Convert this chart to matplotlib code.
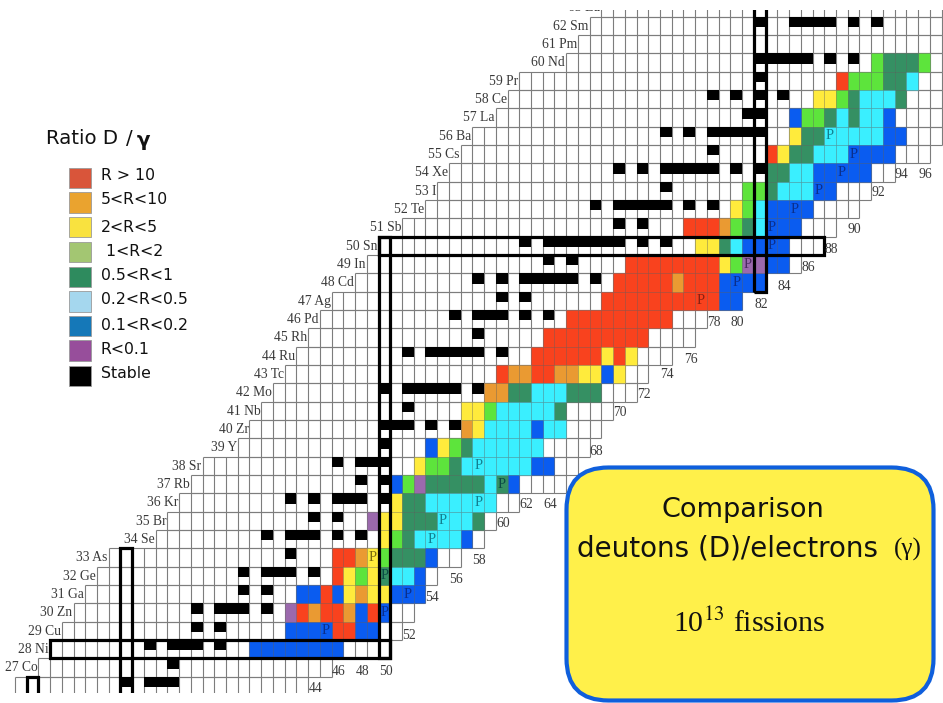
import matplotlib
matplotlib.use("Agg")
import matplotlib.pyplot as plt
from matplotlib.patches import Rectangle, FancyBboxPatch

# ---- rows of the chart: Z, element, first N, last N ----
Z_VALUES = list(range(26, 64))
ELEMENTS = ["", "Co", "Ni", "Cu", "Zn", "Ga", "Ge", "As", "Se", "Br", "Kr", "Rb", "Sr", "Y", "Zr", "Nb",
            "Mo", "Tc", "Ru", "Rh", "Pd", "Ag", "Cd", "In", "Sn", "Sb", "Te", "I", "Xe", "Cs", "Ba",
            "La", "Ce", "Pr", "Nd", "Pm", "Sm", "Eu"]
N_FIRST = [19, 21, 22, 23, 24, 25, 26, 27, 31, 32, 33, 34, 35, 38, 39, 40,
           41, 42, 43, 44, 45, 46, 48, 49, 50, 52, 54, 55, 56, 57, 58,
           60, 61, 62, 66, 67, 68, 69]
N_LAST = [43, 45, 50, 51, 52, 53, 54, 56, 58, 59, 61, 65, 66, 67, 68, 69,
          71, 72, 74, 76, 77, 80, 82, 85, 87, 88, 90, 91, 93, 96, 97,
          97, 97, 97, 97, 97, 97, 97]

# ---- ratio classes: (Z, first N, last N) ----
RED = [(29, 46, 47), (30, 43, 43), (30, 45, 46), (30, 49, 49), (31, 45, 45), (32, 46, 46), (33, 46, 47),
       (43, 60, 60), (43, 63, 64), (44, 63, 68), (44, 70, 70), (45, 64, 72), (46, 66, 74), (47, 69, 78),
       (48, 70, 74), (48, 76, 78), (49, 71, 78), (51, 76, 78), (55, 83, 83), (59, 89, 89)]
ORANGE = [(30, 44, 44), (30, 47, 47), (31, 48, 48), (33, 48, 48), (40, 57, 57), (42, 59, 60),
          (43, 61, 62), (43, 65, 66), (48, 75, 75), (51, 79, 79)]
YELLOW = [(31, 47, 47), (31, 49, 50), (32, 47, 47), (32, 49, 49), (33, 49, 49), (34, 50, 50), (35, 50, 51),
          (36, 51, 51), (38, 53, 53), (39, 55, 55), (40, 58, 58), (41, 57, 58), (43, 67, 68), (43, 70, 70),
          (44, 69, 69), (44, 71, 71), (49, 79, 79), (50, 77, 78), (52, 80, 80), (55, 84, 84), (56, 85, 85),
          (58, 87, 88)]
GREEN = [(32, 48, 48), (33, 50, 50), (34, 51, 51), (37, 52, 52), (38, 54, 55), (39, 56, 56), (41, 59, 59),
         (49, 80, 80), (51, 80, 80), (52, 81, 81), (53, 81, 82), (57, 86, 87), (58, 89, 89), (59, 90, 92),
         (60, 92, 92), (60, 96, 96)]
DARK = [(32, 50, 50), (33, 51, 53), (34, 52, 52), (35, 52, 54), (35, 58, 58), (36, 52, 53), (37, 54, 58),
        (37, 60, 60), (38, 56, 56), (39, 57, 57), (41, 65, 65), (42, 61, 62), (42, 66, 68), (50, 79, 79),
        (51, 81, 81), (53, 83, 83), (54, 83, 84), (55, 85, 86), (56, 86, 87), (57, 88, 88), (57, 90, 90),
        (58, 90, 90), (58, 94, 94), (59, 93, 94), (60, 93, 95)]
CYAN = [(32, 51, 52), (34, 53, 56), (35, 55, 57), (36, 54, 59), (37, 59, 59), (38, 57, 62), (39, 58, 63),
        (40, 59, 62), (40, 64, 65), (41, 60, 64), (42, 63, 65), (50, 80, 80), (51, 82, 82), (52, 82, 82),
        (53, 84, 86), (54, 85, 86), (55, 87, 89), (56, 88, 92), (57, 89, 89), (57, 91, 92), (58, 91, 93),
        (59, 95, 95)]
BLUE = [(28, 39, 46), (29, 42, 45), (29, 48, 49), (30, 48, 48), (30, 50, 50), (31, 43, 44), (31, 46, 46),
        (31, 51, 53), (32, 53, 53), (33, 54, 54), (34, 57, 57), (37, 51, 51), (37, 61, 61), (38, 63, 64),
        (39, 54, 54), (40, 63, 63), (43, 69, 69), (47, 79, 80), (48, 79, 82), (49, 83, 84), (50, 81, 84),
        (51, 83, 85), (52, 83, 86), (53, 87, 88), (54, 87, 91), (55, 90, 93), (56, 93, 94), (57, 85, 85),
        (57, 93, 93)]
PURPLE = [(30, 42, 42), (35, 49, 49), (37, 53, 53), (49, 81, 82)]

# ---- stable nuclides per Z ----
STABLE = {26: [28, 30, 31, 32], 27: [32], 28: [30, 32, 33, 34, 36], 29: [34, 36], 30: [34, 36, 37, 38, 40],
          31: [38, 40], 32: [38, 40, 41, 42, 44], 33: [42], 34: [40, 42, 43, 44, 46, 48], 35: [44, 46],
          36: [42, 44, 46, 47, 48, 50], 37: [48, 50], 38: [46, 48, 49, 50], 39: [50], 40: [50, 51, 52, 54, 56],
          41: [52], 42: [50, 52, 53, 54, 55, 56, 58], 44: [52, 54, 55, 56, 57, 58, 60], 45: [58],
          46: [56, 58, 59, 60, 62, 64], 47: [60, 62], 48: [58, 60, 62, 63, 64, 65, 66, 68], 49: [64, 66],
          50: [62, 64, 65, 66, 67, 68, 69, 70, 72, 74], 51: [70, 72], 52: [68, 70, 71, 72, 73, 74, 76, 78],
          53: [74], 54: [70, 72, 74, 75, 76, 77, 78, 80, 82], 55: [78], 56: [74, 76, 78, 79, 80, 81, 82],
          57: [81, 82], 58: [78, 80, 82, 84], 59: [82], 60: [82, 83, 84, 85, 86, 88, 90],
          62: [82, 85, 86, 87, 88, 90, 92]}

# ---- cells marked P: (Z, N, text colour) ----
P_CELLS = [(29, 45, "#0a2f8c"), (30, 50, "#0a2f8c"), (31, 52, "#0a2f8c"), (32, 50, "#0b4a45"), (33, 49, "#7a6a10"),
           (34, 54, "#127f90"), (35, 55, "#127f90"), (36, 58, "#127f90"), (37, 60, "#0b4a45"), (38, 58, "#127f90"),
           (47, 77, "#8a2010"), (48, 80, "#0a2f8c"), (49, 81, "#4a2a60"), (50, 83, "#0a2f8c"), (51, 83, "#0a2f8c"),
           (52, 85, "#0a2f8c"), (53, 87, "#0a2f8c"), (54, 89, "#0a2f8c"), (55, 90, "#0a2f8c"), (56, 88, "#127f90")]

# ---- magic-number boxes ----
BOX_COLUMNS = [(20, 25, 26), (28, 25, 33), (50, 28, 50), (82, 48, 64)]   # N, Z low, Z high
BOX_ROWS = [(28, 22, 50), (50, 50, 87)]                                  # Z, N low, N high

# ---- neutron numbers written along the lower edge: N, Z height ----
N_LABELS = [44, 46, 48, 50, 52, 54, 56, 58, 60, 62, 64, 68, 70, 72, 74, 76, 78, 80, 82, 84, 86, 88, 90, 92, 94, 96]
N_LABEL_Z = [25.83, 26.78, 26.78, 26.78, 28.77, 30.83, 31.8, 32.83, 34.87, 35.87, 35.87, 38.77, 40.9, 41.87,
             42.96, 43.8, 45.8, 45.8, 46.83, 47.8, 48.8, 49.8, 50.87, 52.9, 53.87, 53.87]

# ---- legend ----
LEGEND_LABELS = ["R > 10", "5<R<10", "2<R<5", " 1<R<2", "0.5<R<1", "0.2<R<0.5", "0.1<R<0.2", "R<0.1", "Stable"]
LEGEND_COLORS = ["#D9553A", "#EAA32F", "#F9E23F", "#A3C672", "#2E8B5E", "#A5D7EE", "#1578B8", "#974E9B", "#000000"]
CELL_COLORS = {"red": "#F9421E", "orange": "#EA9A32", "yellow": "#FFEB3C", "green": "#5DE43C",
               "dark": "#359063", "cyan": "#3AEFFF", "blue": "#0A5CF0", "purple": "#9B69AD"}

W, H = 943, 703
PX = 11.73
PY = 18.33
X0 = 384.37   # pixel of the centre of N=50
Y0 = 649.17   # pixel of the centre of Z=28
TOP, BOTTOM = 10, 693

fig = plt.figure(figsize=(W / 100, H / 100), dpi=100, facecolor="white")
ax = fig.add_axes([0, (H - BOTTOM) / H, 1, (BOTTOM - TOP) / H])
ax.set_xlim(50 - X0 / PX, 50 + (W - X0) / PX)
ax.set_ylim(28 - (BOTTOM - Y0) / PY, 28 + (Y0 - TOP) / PY)
ax.axis("off")

GRID = "#7d7d7d"
for z, el, n0, n1 in zip(Z_VALUES, ELEMENTS, N_FIRST, N_LAST):
    ax.hlines([z - 0.5, z + 0.5], n0 - 0.5, n1 + 0.5, colors=GRID, lw=0.8, zorder=1)
    ax.vlines([n - 0.5 for n in range(n0, n1 + 2)], z - 0.5, z + 0.5, colors=GRID, lw=0.8, zorder=1)
    if el:
        ax.text(n0 - 0.58, z - 0.02, f"{z} {el}", ha="right", va="center", family="Liberation Serif",
                fontsize=9.8, color="#3a3a3a", zorder=6, clip_on=True)

for name, runs in [("red", RED), ("orange", ORANGE), ("yellow", YELLOW), ("green", GREEN),
                   ("dark", DARK), ("cyan", CYAN), ("blue", BLUE), ("purple", PURPLE)]:
    for z, n0, n1 in runs:
        for n in range(n0, n1 + 1):
            ax.add_patch(Rectangle((n - 0.5, z - 0.5), 1, 1, facecolor=CELL_COLORS[name],
                                   edgecolor=(0.3, 0.3, 0.3, 0.18), lw=0.6, zorder=2))

for z, ns in STABLE.items():
    for n in ns:
        ax.add_patch(Rectangle((n - 0.5, z - 0.06), 1, 0.56, facecolor="black", edgecolor="none", zorder=3))

for z, n, col in P_CELLS:
    ax.text(n, z, "P", ha="center", va="center", family="Liberation Serif", fontsize=10.5, color=col, zorder=5)

THICK = 2.3
for n, z0, z1 in BOX_COLUMNS:
    ax.add_patch(Rectangle((n - 0.5, z0 - 0.5), 1, z1 - z0 + 1, fill=False, edgecolor="black", lw=THICK, zorder=4))
for z, n0, n1 in BOX_ROWS:
    ax.add_patch(Rectangle((n0 - 0.5, z - 0.5), n1 - n0 + 1, 1, fill=False, edgecolor="black", lw=THICK, zorder=4))

for n, z in zip(N_LABELS, N_LABEL_Z):
    ax.text(n + 0.1, z, str(n), ha="center", va="center", family="Liberation Serif", fontsize=9.8,
            color="#3a3a3a", zorder=6)

# overlay in pixel coordinates for legend and note
ov = fig.add_axes([0, 0, 1, 1], facecolor="none")
ov.set_xlim(0, W)
ov.set_ylim(H, 0)
ov.axis("off")

ov.text(45.5, 138, "Ratio D", ha="left", va="center", family="DejaVu Sans", fontsize=14.2, color="#111111")
ov.text(126, 138, "/", ha="left", va="center", family="DejaVu Sans", fontsize=14.2, color="#111111")
ov.text(137, 140, "γ", ha="left", va="center", family="DejaVu Sans", fontsize=14.2, fontweight="bold", color="#111111")

sw_tops = [167.7, 192.3, 216.7, 241.7, 266.7, 291, 315.7, 340, 365.7]
txt_y = [175.7, 200, 228, 252, 276, 300, 325, 349, 373]
for top, ty, lab, col in zip(sw_tops, txt_y, LEGEND_LABELS, LEGEND_COLORS):
    ov.add_patch(Rectangle((68.7, top), 22.6, 20.6, facecolor=col, edgecolor="#9a9a9a", lw=0.6))
    ov.text(101, ty, lab, ha="left", va="center", family="DejaVu Sans", fontsize=11.3, color="#111111")

ov.add_patch(FancyBboxPatch((566.5, 467.5), 367, 233, boxstyle="round,pad=0,rounding_size=42",
                            facecolor="#FFF04A", edgecolor="#0F5FDC", lw=3.0, zorder=7))
ov.text(743, 510, "Comparison", ha="center", va="center", family="DejaVu Sans", fontsize=19.5, color="#111111", zorder=8)
ov.text(577, 548, "deutons (D)/electrons", ha="left", va="center", family="DejaVu Sans", fontsize=20,
        color="#111111", zorder=8)
ov.text(922, 549, "(γ)", ha="right", va="center", family="Liberation Serif", fontsize=18, color="#111111", zorder=8)
ov.text(749, 623, r"10$^{13}$ fissions", ha="center", va="center", family="Liberation Serif",
        math_fontfamily="stix", fontsize=21.5, color="#111111", zorder=8)

fig.savefig("out.png", dpi=100, facecolor="white")
